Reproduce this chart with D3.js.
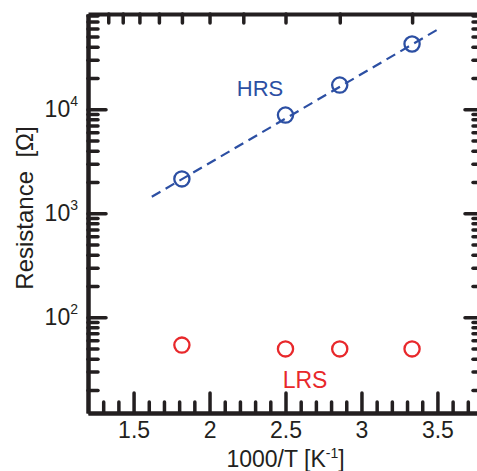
<!DOCTYPE html>
<html>
<head>
<meta charset="utf-8">
<script src="https://cdn.jsdelivr.net/npm/d3@7"></script>
<style>
  body { margin: 0; background: #fff; }
  svg { display: block; font-family: "Liberation Sans", Arial, sans-serif; }
</style>
</head>
<body>
<svg id="chart"></svg>
<script>
// data
const invT = [1.818, 2.5, 2.857, 3.333];          // 1000/T [1/K]
const hrs = [2140, 8800, 17100, 42400];           // high resistance state [Ohm]
const lrs = [54, 49.6, 49.6, 49.6];               // low resistance state [Ohm]
const fitX = [1.62, 3.52];                        // dashed Arrhenius fit, ends
const fitR = [1440, 60700];
const xMajor = [1.5, 2, 2.5, 3, 3.5];
const xMinor = [1.3, 1.4, 1.6, 1.7, 1.8, 1.9, 2.1, 2.2, 2.3, 2.4, 2.6, 2.7, 2.8, 2.9, 3.1, 3.2, 3.3, 3.4, 3.6, 3.7];
const yMajor = [100, 1000, 10000];
const yMajorExp = ["2", "3", "4"];
const tempTicks = [300, 350, 400, 450, 500, 550, 600, 650, 700, 750]; // top axis, T in K

const config = {
  width: 477, height: 471,
  margin: { top: 14, left: 88, right: -6, bottom: 58 }
};
const W = config.width - config.margin.left - config.margin.right;
const H = config.height - config.margin.top - config.margin.bottom;

const blue = "#2c4fa3", red = "#e8282b", ink = "#231f20";

const svg = d3.select("#chart")
  .attr("width", config.width)
  .attr("height", config.height);

const chart = svg.append("g")
  .attr("transform", `translate(${config.margin.left},${config.margin.top})`);

const x = d3.scaleLinear().domain([1.2, 3.8]).range([0, W]);
const y = d3.scaleLog().domain([12, 82500]).range([H, 0]);

// minor log ticks
let yMinor = [];
[10, 100, 1000, 10000].forEach(d => {
  for (let k = 2; k <= 9; k++) {
    const v = d * k;
    if (v > y.domain()[0] && v < y.domain()[1]) yMinor.push(v);
  }
});

function styleAxis(g) {
  g.selectAll(".domain").attr("stroke", ink).attr("stroke-width", 4);
  g.selectAll(".tick line").attr("stroke", ink).attr("stroke-width", 3.5).attr("stroke-linecap", "round");
}

// bottom axis
chart.append("g").attr("transform", `translate(0,${H})`)
  .call(d3.axisBottom(x).tickValues(xMinor).tickSizeInner(-11).tickSizeOuter(0).tickFormat(""))
  .call(styleAxis);
const xAx = chart.append("g").attr("transform", `translate(0,${H})`)
  .call(d3.axisBottom(x).tickValues(xMajor).tickSizeInner(-20).tickSizeOuter(0).tickPadding(9).tickFormat(d3.format("")))
  .call(styleAxis);
xAx.selectAll(".tick text").attr("fill", ink).style("font-size", "23px");

// top axis (temperature ticks)
chart.append("g")
  .call(d3.axisTop(x).tickValues(tempTicks.map(t => 1000 / t)).tickSizeInner(-9).tickSizeOuter(0).tickFormat(""))
  .call(styleAxis);

// left axis
chart.append("g")
  .call(d3.axisLeft(y).tickValues(yMinor).tickSizeInner(-10).tickSizeOuter(0).tickFormat(""))
  .call(styleAxis);
const yAx = chart.append("g")
  .call(d3.axisLeft(y).tickValues(yMajor).tickSizeInner(-18).tickSizeOuter(0).tickPadding(10).tickFormat(""))
  .call(styleAxis);
yAx.selectAll(".tick text").each(function(d, i) {
  const t = d3.select(this).attr("fill", ink).style("font-size", "23px").attr("dy", "0.33em");
  t.append("tspan").text("10");
  t.append("tspan").attr("dy", -11).style("font-size", "14px").text(yMajorExp[i]);
});

// right axis
chart.append("g").attr("transform", `translate(${W},0)`)
  .call(d3.axisRight(y).tickValues(yMinor).tickSizeInner(-10).tickSizeOuter(0).tickFormat(""))
  .call(styleAxis);
chart.append("g").attr("transform", `translate(${W},0)`)
  .call(d3.axisRight(y).tickValues(yMajor).tickSizeInner(-18).tickSizeOuter(0).tickFormat(""))
  .call(styleAxis);

// fit line
chart.append("path")
  .datum(fitX.map((d, i) => [d, fitR[i]]))
  .attr("d", d3.line().x(d => x(d[0])).y(d => y(d[1])))
  .attr("fill", "none")
  .attr("stroke", blue)
  .attr("stroke-width", 2.2)
  .attr("stroke-dasharray", "10,6");

chart.selectAll(".hrs")
  .data(invT)
  .join("circle")
    .attr("class", "hrs")
    .attr("cx", d => x(d))
    .attr("cy", (d, i) => y(hrs[i]))
    .attr("r", 7.6)
    .attr("fill", "none")
    .attr("stroke", blue)
    .attr("stroke-width", 2.3);

chart.selectAll(".lrs")
  .data(invT)
  .join("circle")
    .attr("class", "lrs")
    .attr("cx", d => x(d))
    .attr("cy", (d, i) => y(lrs[i]))
    .attr("r", 7.6)
    .attr("fill", "none")
    .attr("stroke", red)
    .attr("stroke-width", 2.3);

// series labels
chart.append("text")
  .attr("x", 260 - config.margin.left)
  .attr("y", 96 - config.margin.top)
  .attr("text-anchor", "middle")
  .attr("fill", blue)
  .style("font-size", "22px")
  .text("HRS");

chart.append("text")
  .attr("x", 305 - config.margin.left)
  .attr("y", 388 - config.margin.top)
  .attr("text-anchor", "middle")
  .attr("fill", red)
  .style("font-size", "23px")
  .text("LRS");

// axis titles
const xl = svg.append("text")
  .attr("x", config.margin.left + x(2.5))
  .attr("y", 467)
  .attr("text-anchor", "middle")
  .attr("fill", ink)
  .style("font-size", "23px");
xl.append("tspan").text("1000/T [K");
xl.append("tspan").attr("dy", -9).style("font-size", "14px").text("-1");
xl.append("tspan").attr("dy", 9).text("]");

svg.append("text")
  .attr("transform", "translate(33,208) rotate(-90)")
  .attr("text-anchor", "middle")
  .attr("fill", ink)
  .style("font-size", "24px")
  .text("Resistance\u00a0\u00a0[\u03a9]");
</script>
</body>
</html>
